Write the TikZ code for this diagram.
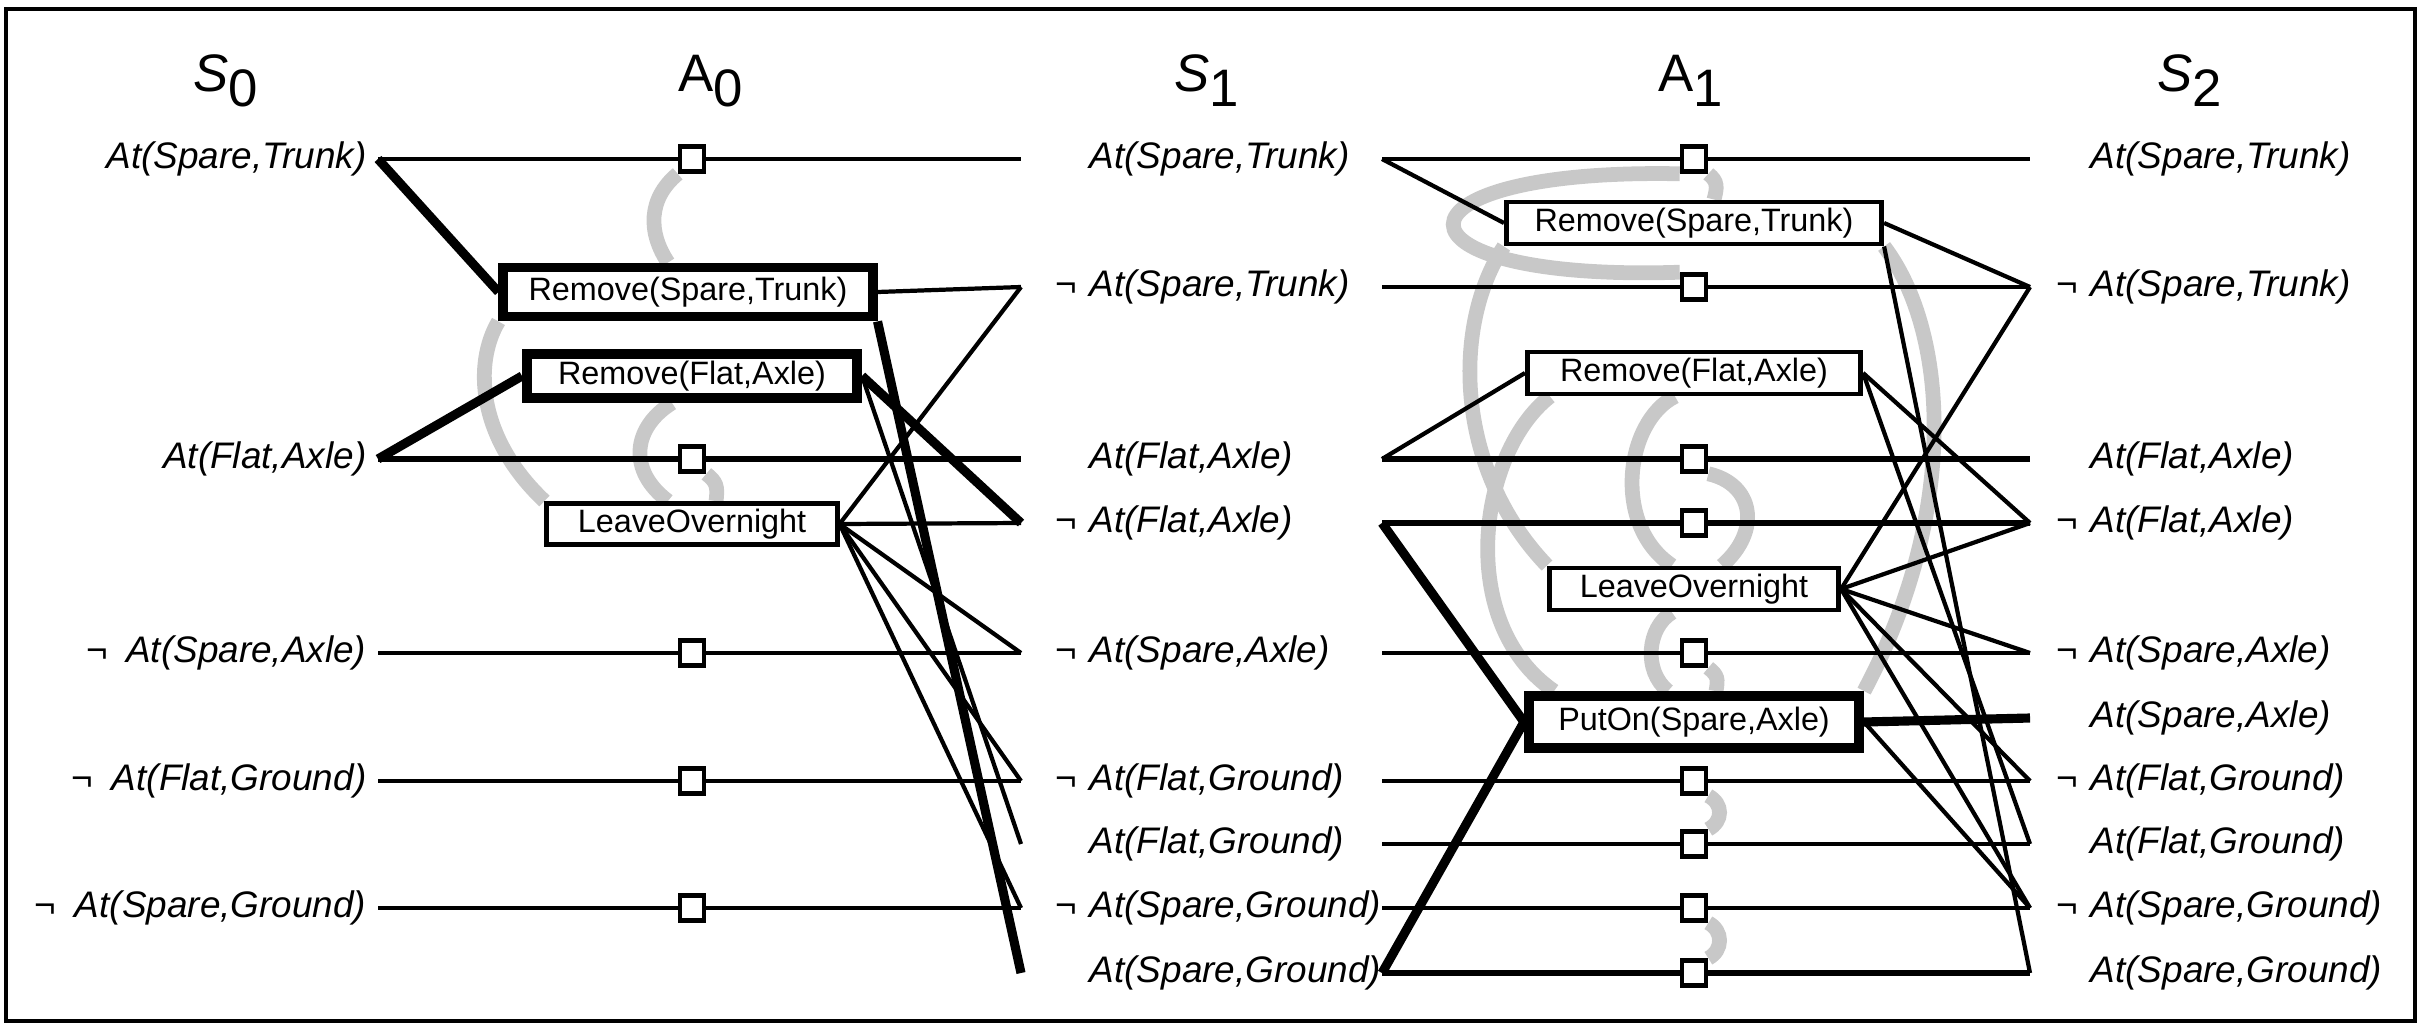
\documentclass[tikz,border=0pt]{standalone}
\usepackage{fontspec}
\setmainfont{Liberation Sans}
\usetikzlibrary{backgrounds}
\definecolor{mutexgray}{RGB}{200,200,200}
\newcommand{\lit}[2]{At(#1,#2)}
\newcommand{\nlit}[2]{\llap{¬\hspace{0.35em}}At(#1,#2)}

\begin{document}
\begin{tikzpicture}[x=0.01cm, y=-0.01cm,
    fact/.style={inner sep=0pt, font=\fontsize{10.5}{12}\selectfont\itshape},
    level/.style={inner sep=0pt, font=\fontsize{15}{18}\selectfont},
    act/.style={rectangle, draw, fill=white, inner sep=0pt, line width=1.4pt, minimum height=0.42cm, font=\fontsize{9.2}{11}\selectfont},
    keyact/.style={act, line width=2.8pt},
    noop/.style={rectangle, draw, fill=white, inner sep=0pt, line width=1.3pt, minimum width=0.24cm, minimum height=0.25cm},
    link/.style={line width=1.2pt},
    keylink/.style={line width=2.6pt},
    keyrow/.style={line width=1.9pt},
    mutex/.style={draw=mutexgray, line width=4.2pt},
]
\useasboundingbox (0,0) rectangle (2422,1027);
\draw[line width=1pt] (6,9) rectangle (2415,1021);

% level headings
\node[level, anchor=base west] (lvl-s0) at (193,91) {\textit{S}\raisebox{-0.3em}{0}};
\node[level, anchor=base west] (lvl-a0) at (678,91) {A\raisebox{-0.3em}{0}};
\node[level, anchor=base west] (lvl-s1) at (1174,91) {\textit{S}\raisebox{-0.3em}{1}};
\node[level, anchor=base west] (lvl-a1) at (1658,91) {A\raisebox{-0.3em}{1}};
\node[level, anchor=base west] (lvl-s2) at (2157,91) {\textit{S}\raisebox{-0.3em}{2}};

% S0 literals
\node[fact, anchor=east] (s0-st) at (367,159) {\lit{Spare}{Trunk}};
\node[fact, anchor=east] (s0-fa) at (367,459) {\lit{Flat}{Axle}};
\node[fact, anchor=east] (s0-nsa) at (367,653) {¬\hspace{0.5em}\lit{Spare}{Axle}};
\node[fact, anchor=east] (s0-nfg) at (367,781) {¬\hspace{0.5em}\lit{Flat}{Ground}};
\node[fact, anchor=east] (s0-nsg) at (367,908) {¬\hspace{0.5em}\lit{Spare}{Ground}};

% S1 literals
\node[fact, anchor=west] (s1-st) at (1089,159) {\lit{Spare}{Trunk}};
\node[fact, anchor=west] (s1-nst) at (1089,287) {\nlit{Spare}{Trunk}};
\node[fact, anchor=west] (s1-fa) at (1089,459) {\lit{Flat}{Axle}};
\node[fact, anchor=west] (s1-nfa) at (1089,523) {\nlit{Flat}{Axle}};
\node[fact, anchor=west] (s1-nsa) at (1089,653) {\nlit{Spare}{Axle}};
\node[fact, anchor=west] (s1-nfg) at (1089,781) {\nlit{Flat}{Ground}};
\node[fact, anchor=west] (s1-fg) at (1089,844) {\lit{Flat}{Ground}};
\node[fact, anchor=west] (s1-nsg) at (1089,908) {\nlit{Spare}{Ground}};
\node[fact, anchor=west] (s1-sg) at (1089,973) {\lit{Spare}{Ground}};

% S2 literals
\node[fact, anchor=west] (s2-st) at (2090,159) {\lit{Spare}{Trunk}};
\node[fact, anchor=west] (s2-nst) at (2090,287) {\nlit{Spare}{Trunk}};
\node[fact, anchor=west] (s2-fa) at (2090,459) {\lit{Flat}{Axle}};
\node[fact, anchor=west] (s2-nfa) at (2090,523) {\nlit{Flat}{Axle}};
\node[fact, anchor=west] (s2-nsa) at (2090,653) {\nlit{Spare}{Axle}};
\node[fact, anchor=west] (s2-sa) at (2090,718) {\lit{Spare}{Axle}};
\node[fact, anchor=west] (s2-nfg) at (2090,781) {\nlit{Flat}{Ground}};
\node[fact, anchor=west] (s2-fg) at (2090,844) {\lit{Flat}{Ground}};
\node[fact, anchor=west] (s2-nsg) at (2090,908) {\nlit{Spare}{Ground}};
\node[fact, anchor=west] (s2-sg) at (2090,973) {\lit{Spare}{Ground}};

% line ends at each state level
\foreach \k/\y in {st/159, fa/459, nsa/653, nfg/781, nsg/908}
  \coordinate (s0-\k-o) at (378,\y);
\foreach \k/\y in {st/159, nst/287, fa/459, nfa/523, nsa/653, nfg/781, fg/844, nsg/908, sg/973} {
  \coordinate (s1-\k-i) at (1021,\y);
  \coordinate (s1-\k-o) at (1382,\y);
}
\foreach \k/\y in {st/159, nst/287, fa/459, nfa/523, nsa/653, sa/718, nfg/781, fg/844, nsg/908, sg/973}
  \coordinate (s2-\k-i) at (2030,\y);

% persistence actions
\foreach \k/\y in {st/159, fa/459, nsa/653, nfg/781, nsg/908}
  \node[noop] (n0-\k) at (692,\y) {};
\foreach \k/\y in {st/159, nst/287, fa/459, nfa/523, nsa/653, nfg/781, fg/844, nsg/908, sg/973}
  \node[noop] (n1-\k) at (1694,\y) {};

% actions
\node[keyact, minimum width=3.69cm, minimum height=0.49cm] (a0-rst) at (688,292) {Remove(Spare,Trunk)};
\node[keyact, minimum width=3.30cm, minimum height=0.44cm] (a0-rfa) at (692,376) {Remove(Flat,Axle)};
\node[act, minimum width=2.90cm, minimum height=0.41cm] (a0-lo) at (692,524) {LeaveOvernight};
\node[act, minimum width=3.75cm] (a1-rst) at (1694,223) {Remove(Spare,Trunk)};
\node[act, minimum width=3.33cm] (a1-rfa) at (1694,373) {Remove(Flat,Axle)};
\node[act, minimum width=2.89cm] (a1-lo) at (1694,589) {LeaveOvernight};
\node[keyact, minimum width=3.30cm, minimum height=0.52cm] (a1-po) at (1694,722) {PutOn(Spare,Axle)};

\begin{scope}[on background layer]
% mutex links, A0
\draw[mutex] (n0-st.south west) .. controls +(-30,25) and +(-20,-30) .. ([xshift=-0.2cm]a0-rst.north);
\draw[mutex] (a0-rst.south west) .. controls +(-25,42) and +(-67,-63) .. (a0-lo.north west);
\draw[mutex] ([xshift=-0.2cm]a0-rfa.south) .. controls +(-40,25) and +(-40,-30) .. ([xshift=-0.24cm]a0-lo.north);
\draw[mutex] (n0-fa.south east) .. controls +(10,8) and +(2,-15) .. ([xshift=0.24cm]a0-lo.north);

% mutex links, A1
\draw[mutex] (n1-st.south west) .. controls +(-302,-6) and +(-302,10) .. (n1-nst.north west);
\draw[mutex] (n1-st.south east) .. controls +(10,8) and +(3,-12) .. ([xshift=0.2cm]a1-rst.north);
\draw[mutex] (a1-rst.south east) .. controls +(65,86) and +(95,-178) .. (a1-po.north east);
\draw[mutex] (a1-rst.south west) .. controls +(-51,76) and +(-94,-98) .. (a1-lo.north west);
\draw[mutex] ([xshift=0.25cm]a1-rfa.south west) .. controls +(-72,56) and +(-99,-68) .. ([xshift=0.3cm]a1-po.north west);
\draw[mutex] ([xshift=-0.19cm]a1-rfa.south) .. controls +(-50,25) and +(-60,-40) .. ([xshift=-0.22cm]a1-lo.north);
\draw[mutex] (n1-fa.south east) .. controls +(45,10) and +(40,-35) .. ([xshift=0.28cm]a1-lo.north);
\draw[mutex] ([xshift=-0.22cm]a1-lo.south) .. controls +(-25,15) and +(-25,-20) .. ([xshift=-0.26cm]a1-po.north);
\draw[mutex] (n1-nsa.south east) .. controls +(10,8) and +(2,-12) .. ([xshift=0.22cm]a1-po.north);
\draw[mutex] (n1-nfg.south east) .. controls +(15,8) and +(15,-8) .. (n1-fg.north east);
\draw[mutex] (n1-nsg.south east) .. controls +(15,8) and +(15,-8) .. (n1-sg.north east);

% S0 -> A0 -> S1
\draw[keylink] (s0-st-o) -- (a0-rst.west);
\draw[keylink] (s0-fa-o) -- (a0-rfa.west);
\foreach \k in {st,nsa,nfg,nsg}
  \draw[link] (s0-\k-o) -- (n0-\k) -- (s1-\k-i);
\draw[keyrow] (s0-fa-o) -- (n0-fa) -- (s1-fa-i);
\draw[link] (a0-rst.east) -- (s1-nst-i);
\draw[keylink] (a0-rst.south east) -- (s1-sg-i);
\draw[keylink] (a0-rfa.east) -- (s1-nfa-i);
\draw[link] (a0-rfa.east) -- (s1-fg-i);
\foreach \k in {nst,nfa,nsa,nfg,nsg}
  \draw[link] (a0-lo.east) -- (s1-\k-i);

% S1 -> A1 -> S2
\draw[link] (s1-st-o) -- (a1-rst.west);
\draw[link] (s1-fa-o) -- (a1-rfa.west);
\draw[keylink, line join=miter] (s1-nfa-o) -- (a1-po.west) -- (s1-sg-o);
\foreach \k in {st,nst,nsa,nfg,fg,nsg}
  \draw[link] (s1-\k-o) -- (n1-\k) -- (s2-\k-i);
\foreach \k in {fa,nfa,sg}
  \draw[keyrow] (s1-\k-o) -- (n1-\k) -- (s2-\k-i);
\draw[link] (a1-rst.east) -- (s2-nst-i);
\draw[link] (a1-rst.south east) -- (s2-sg-i);
\draw[link] (a1-rfa.east) -- (s2-nfa-i);
\draw[link] (a1-rfa.east) -- (s2-fg-i);
\foreach \k in {nst,nfa,nsa,nfg,nsg}
  \draw[link] (a1-lo.east) -- (s2-\k-i);
\draw[keylink] (a1-po.east) -- (s2-sa-i);
\draw[link] (a1-po.east) -- (s2-nsg-i);
\end{scope}
\end{tikzpicture}
\end{document}
